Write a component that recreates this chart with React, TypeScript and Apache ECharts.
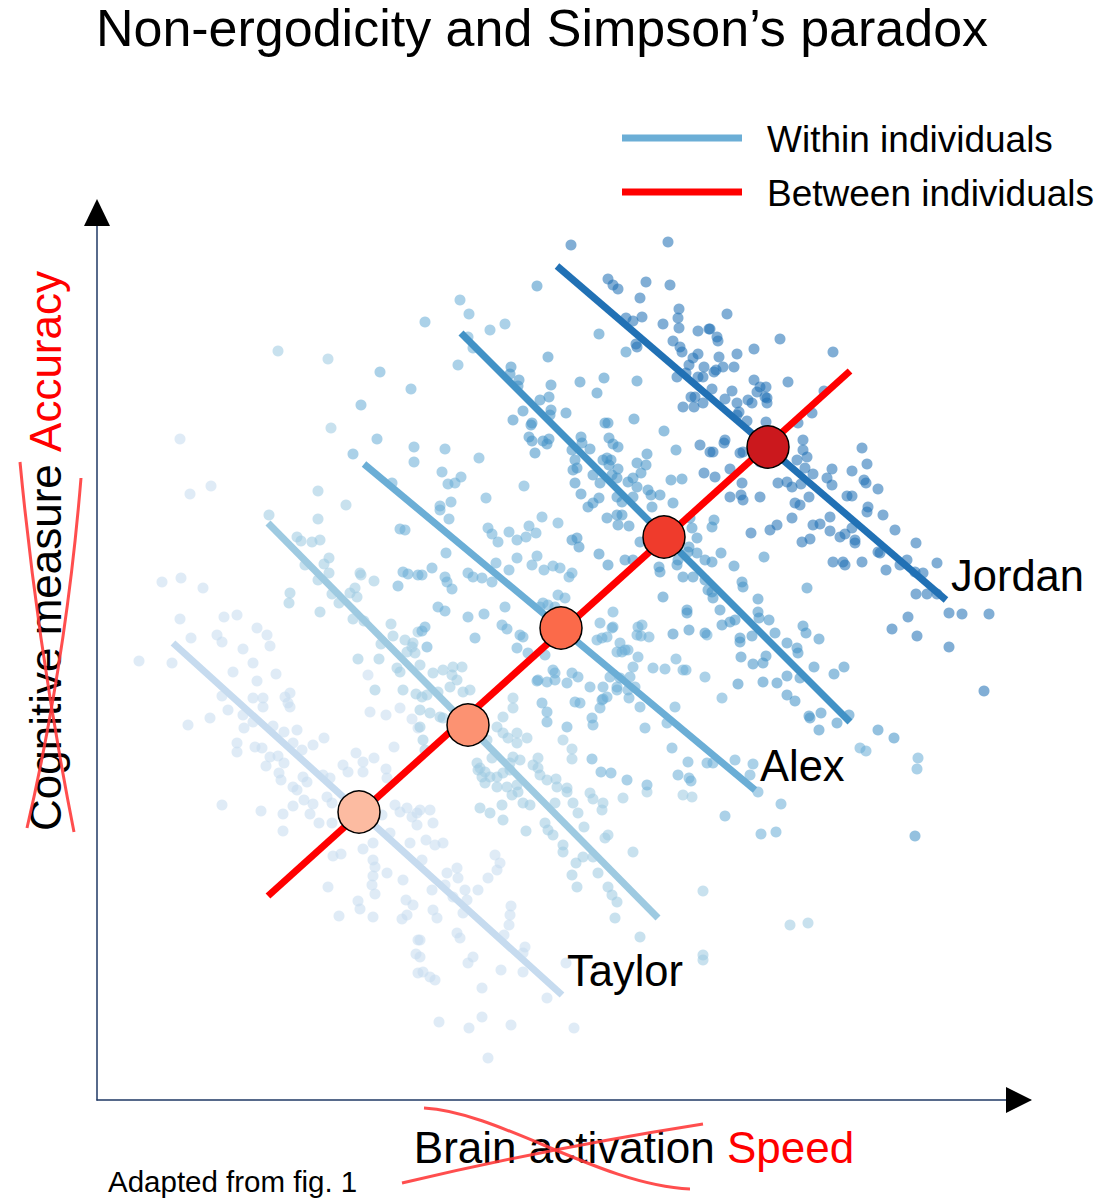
import React, { useEffect, useRef } from 'react';
import * as echarts from 'echarts';

const FONT = '"Liberation Sans", Arial, sans-serif';

// axis ranges (arbitrary units)
const X_MAX = 933;
const Y_MAX = 895;

const TITLE = 'Non-ergodicity and Simpson\u2019s paradox';
const LEGEND_WITHIN = 'Within individuals';
const LEGEND_BETWEEN = 'Between individuals';
const X_LABEL_OLD = 'Brain activation';
const X_LABEL_NEW = 'Speed';
const Y_LABEL_OLD = 'Cognitive measure';
const Y_LABEL_NEW = 'Accuracy';
const SOURCE = 'Adapted from fig. 1';

const GROUP_LABELS = ['Taylor', '', 'Alex', '', 'Jordan'];
const GROUP_COLORS = ['#c6dbef', '#9ecae1', '#6baed6', '#4292c6', '#2171b5'];
const MEAN_COLORS = ['#fcbba1', '#fc9272', '#fb6a4a', '#ef3b2c', '#cb181d'];

// individual means
const MEANS_X = [262, 371, 464, 567, 671];
const MEANS_Y = [288, 375, 472, 563, 653];

// within-individual fitted lines (start / end)
const WITHIN_X0 = [76, 171, 267, 364, 460];
const WITHIN_Y0 = [457, 577, 636, 767, 834];
const WITHIN_X1 = [465, 561, 658, 753, 849];
const WITHIN_Y1 = [105, 182, 310, 378, 500];

// between-individual line
const BETWEEN_X = [171, 753];
const BETWEEN_Y = [204, 729];

// observations per individual
const TAYLOR_POINTS = [
  [83,661],[93,606],[114,614],[65,518],[84,522],[106,512],[83,481],[94,462],[127,483],[140,485],
  [120,465],[125,458],[160,472],[170,465],[173,454],[146,451],[156,437],[136,428],[160,419],[179,426],
  [42,439],[75,437],[125,404],[131,390],[156,402],[166,402],[166,393],[188,403],[193,407],[191,397],
  [193,393],[91,375],[113,382],[146,385],[147,372],[156,378],[176,374],[187,368],[200,370],[140,357],
  [140,348],[158,353],[165,352],[173,343],[181,344],[196,357],[205,350],[216,355],[227,362],[169,334],
  [187,337],[182,327],[184,320],[196,313],[206,323],[210,318],[226,325],[233,322],[259,347],[277,342],
  [266,338],[289,331],[290,322],[246,335],[251,328],[266,328],[297,353],[273,388],[289,385],[303,392],
  [315,381],[321,372],[271,425],[125,295],[164,289],[186,286],[196,294],[207,300],[216,296],[213,286],
  [186,269],[222,277],[235,277],[230,303],[235,297],[200,310],[266,251],[276,257],[276,240],[278,233],
  [276,224],[290,227],[236,244],[244,246],[231,213],[275,215],[278,206],[261,199],[263,191],[242,184],
  [276,183],[306,220],[309,200],[305,181],[310,185],[316,195],[298,295],[303,288],[310,292],[315,283],
  [320,275],[313,257],[320,287],[293,267],[285,285],[321,160],[319,146],[321,127],[323,290],[333,290],
  [336,277],[329,260],[346,257],[338,255],[325,240],[335,210],[348,215],[360,232],[350,227],[361,222],
  [368,210],[370,200],[356,203],[366,187],[381,210],[391,222],[398,245],[400,230],[403,237],[336,190],
  [340,182],[323,160],[323,143],[326,128],[333,123],[338,120],[360,167],[363,162],[376,143],[371,137],
  [414,194],[413,185],[412,175],[407,165],[428,153],[426,147],[404,130],[426,128],[450,102],[469,137],
  [385,112],[385,83],[342,78],[372,72],[414,75],[477,72],[391,42],
];

const SECOND_POINTS = [
  [181,749],[231,741],[234,672],[221,609],[249,595],[172,585],[221,581],[200,563],[204,559],[215,558],
  [223,560],[232,542],[227,536],[208,535],[232,527],[221,520],[263,527],[264,525],[277,519],[193,507],
  [192,497],[223,488],[235,506],[253,507],[258,512],[260,503],[242,497],[256,481],[267,479],[294,476],
  [296,464],[284,456],[282,441],[261,441],[308,460],[316,457],[318,447],[321,468],[310,448],[315,453],
  [300,432],[303,428],[278,410],[306,410],[319,406],[323,435],[336,427],[346,430],[356,433],[355,425],
  [360,420],[365,433],[373,410],[366,408],[353,413],[341,408],[330,405],[325,403],[323,390],[333,387],
  [343,383],[346,382],[416,402],[416,392],[406,383],[400,373],[406,367],[411,362],[420,367],[420,357],
  [430,362],[441,342],[436,335],[441,332],[390,360],[395,342],[381,330],[385,323],[443,325],[450,320],
  [459,321],[323,373],[326,360],[328,350],[380,337],[383,332],[388,328],[393,323],[400,323],[406,327],
  [413,330],[416,343],[423,340],[413,337],[388,317],[400,313],[410,313],[420,315],[475,351],[475,341],
  [466,360],[460,313],[470,312],[383,292],[393,287],[405,295],[406,280],[415,305],[421,308],[426,297],
  [433,295],[429,269],[448,277],[451,270],[456,265],[458,297],[470,308],[476,297],[481,287],[487,273],
  [466,255],[466,248],[479,237],[475,225],[480,213],[486,243],[496,243],[501,227],[508,262],[511,265],
  [505,290],[506,297],[493,307],[496,301],[511,213],[515,205],[520,198],[518,182],[543,163],[536,248],
  [526,302],[550,308],[586,305],[595,303],[606,209],[606,145],[606,140],[693,175],[711,177],
];

const ALEX_POINTS = [
  [283,728],[314,711],[264,695],[280,661],[317,653],[317,638],[256,646],[295,617],[363,800],[372,786],
  [328,778],[393,770],[408,776],[371,763],[376,752],[361,735],[348,651],[382,642],[345,628],[351,616],
  [358,617],[364,623],[427,614],[389,602],[354,598],[343,594],[303,571],[308,570],[306,528],[311,526],
  [321,525],[301,514],[352,581],[343,590],[391,572],[395,566],[401,558],[412,568],[420,560],[429,563],
  [432,574],[439,567],[445,583],[461,577],[349,547],[325,525],[335,532],[348,523],[350,518],[355,511],
  [371,527],[376,523],[385,522],[395,518],[399,537],[412,530],[420,542],[435,535],[440,544],[447,530],
  [456,534],[463,532],[472,523],[475,527],[461,505],[468,502],[443,493],[446,497],[451,495],[458,493],
  [426,463],[423,465],[405,475],[410,471],[408,493],[387,486],[378,462],[371,483],[341,493],[348,489],
  [325,469],[328,473],[330,453],[420,452],[431,447],[448,445],[456,430],[458,420],[450,418],[441,420],
  [475,427],[481,423],[470,417],[493,413],[500,460],[505,462],[510,463],[515,472],[516,488],[516,473],
  [503,477],[523,457],[528,450],[525,448],[531,450],[520,448],[545,475],[552,463],[540,465],[541,473],
  [544,464],[556,432],[568,431],[579,441],[586,430],[589,430],[541,443],[536,433],[533,423],[523,422],
  [513,423],[506,413],[520,413],[520,410],[510,403],[506,401],[532,402],[543,393],[531,410],[538,413],
  [608,423],[610,465],[578,393],[570,377],[548,372],[575,352],[591,338],[610,337],[581,325],[592,322],
  [594,319],[495,382],[496,375],[505,400],[503,392],[483,397],[478,398],[445,397],[450,388],[450,378],
  [470,373],[440,419],[458,427],[495,341],[504,328],[514,327],[530,320],[550,315],[625,402],[638,340],
  [656,336],[653,325],[616,337],[763,352],[769,349],[821,342],[820,331],[661,308],[684,296],[628,284],
  [664,266],[679,268],
];

const FOURTH_POINTS = [
  [440,814],[502,766],[529,748],[451,743],[414,733],[413,726],[422,720],[421,714],[454,715],[452,703],
  [443,700],[426,689],[416,680],[435,677],[434,675],[454,690],[453,685],[469,687],[432,663],[435,659],
  [446,659],[450,656],[452,661],[438,647],[540,719],[507,722],[500,707],[483,718],[537,681],[567,669],
  [579,650],[508,677],[511,677],[512,662],[516,656],[521,653],[484,663],[485,657],[493,651],[475,650],
  [478,640],[480,632],[476,630],[506,640],[510,642],[514,640],[512,635],[521,631],[520,622],[515,625],
  [478,617],[484,606],[496,625],[503,617],[550,646],[549,635],[540,637],[544,627],[536,622],[531,618],
  [540,613],[551,610],[554,605],[563,605],[502,602],[496,597],[491,593],[525,598],[520,603],[536,603],
  [576,597],[555,593],[574,620],[585,621],[510,582],[520,585],[521,575],[532,574],[525,585],[556,572],
  [543,558],[553,557],[558,553],[593,582],[595,572],[600,562],[592,553],[591,548],[600,547],[608,540],
  [581,540],[580,535],[586,523],[596,523],[608,520],[611,510],[528,540],[536,540],[562,533],[563,528],
  [566,503],[590,490],[590,487],[592,470],[608,467],[576,466],[475,560],[480,562],[482,553],[502,546],
  [511,535],[617,580],[615,573],[667,543],[624,547],[615,538],[637,534],[710,512],[645,518],[646,513],
  [661,501],[615,508],[616,502],[623,490],[625,475],[633,478],[638,480],[661,488],[662,482],[672,480],
  [655,464],[643,462],[643,458],[678,467],[644,443],[669,444],[666,437],[656,436],[690,457],[700,452],
  [701,447],[706,474],[709,467],[722,461],[717,433],[690,424],[680,417],[666,418],[641,416],[703,422],
  [737,426],[747,433],[690,405],[698,399],[712,384],[724,387],[713,382],[740,377],[752,385],[722,370],
  [781,370],[797,362],[818,264],
];

const JORDAN_POINTS = [
  [474,855],[571,858],[511,821],[516,815],[521,811],[549,818],[573,815],[543,802],[529,782],[536,779],
  [545,783],[566,776],[582,791],[581,782],[582,772],[601,769],[612,771],[576,759],[583,753],[585,748],
  [539,756],[540,753],[596,742],[601,746],[592,735],[607,733],[580,723],[589,727],[601,723],[606,723],
  [594,703],[598,703],[586,693],[597,693],[606,697],[603,655],[613,648],[607,627],[630,786],[613,771],
  [620,763],[621,759],[683,761],[657,751],[640,746],[622,743],[736,748],[637,733],[626,733],[617,728],
  [619,730],[657,720],[691,718],[663,713],[669,713],[660,708],[635,709],[628,701],[615,711],[651,700],
  [655,697],[670,702],[670,697],[668,703],[640,697],[727,709],[642,688],[640,685],[650,679],[669,678],
  [715,687],[701,677],[628,660],[627,657],[616,648],[643,647],[646,648],[706,660],[706,650],[710,643],
  [700,640],[708,632],[765,652],[770,636],[735,631],[730,622],[735,615],[755,629],[767,620],[769,617],
  [781,611],[750,604],[755,604],[716,626],[712,603],[681,617],[690,618],[695,613],[704,616],[645,617],
  [633,631],[618,623],[663,603],[644,605],[646,600],[633,603],[698,597],[703,595],[771,593],[663,638],
  [695,582],[680,575],[673,570],[654,567],[705,558],[713,561],[716,575],[723,576],[733,583],[733,569],
  [743,563],[748,566],[755,572],[758,560],[758,557],[770,588],[786,585],[798,570],[781,548],[783,547],
  [736,538],[746,538],[748,535],[765,538],[789,530],[810,540],[803,535],[819,557],[840,537],[818,528],
  [826,527],[819,506],[830,506],[840,506],[852,487],[865,486],[892,486],[811,483],[795,471],[820,464],
  [852,453],[887,409],
];

const POINT_GROUPS = [TAYLOR_POINTS, SECOND_POINTS, ALEX_POINTS, FOURTH_POINTS, JORDAN_POINTS];

// page layout (pixels)
const GRID_LEFT = 97;
const GRID_TOP = 205;
const GRID_RIGHT_X = 1030;
const GRID_BOTTOM_Y = 1100;
const AXIS_COLOR = '#1f3864';
const STRIKE = '#ff3b3b';

export default function App() {
  const ref = useRef<HTMLDivElement>(null);

  useEffect(() => {
    if (!ref.current) return;
    const chart = echarts.init(ref.current, undefined, { renderer: 'svg' });

    const scatterSeries = POINT_GROUPS.map((pts, i) => ({
      type: 'scatter',
      name: GROUP_LABELS[i] || 'Individual ' + (i + 1),
      data: pts,
      symbolSize: 11,
      itemStyle: { color: GROUP_COLORS[i], opacity: 0.57 },
      z: 2,
      silent: true,
    }));

    const withinSeries = WITHIN_X0.map((x0, i) => ({
      type: 'line',
      name: 'within-' + i,
      data: [[x0, WITHIN_Y0[i]], [WITHIN_X1[i], WITHIN_Y1[i]]],
      symbol: 'none',
      showSymbol: false,
      clip: false,
      lineStyle: { color: GROUP_COLORS[i], width: 7, cap: 'butt' },
      z: 3,
      silent: true,
      endLabel: {
        show: !!GROUP_LABELS[i],
        formatter: GROUP_LABELS[i],
        fontSize: 43.5,
        fontFamily: FONT,
        color: '#000',
        distance: 5,
        offset: [0, -24],
      },
    }));

    const betweenSeries = {
      type: 'line',
      name: 'between',
      data: BETWEEN_X.map((x, i) => [x, BETWEEN_Y[i]]),
      symbol: 'none',
      showSymbol: false,
      clip: false,
      lineStyle: { color: '#ff0000', width: 7, cap: 'butt' },
      z: 4,
      silent: true,
    };

    const meanSeries = {
      type: 'scatter',
      name: 'means',
      data: MEANS_X.map((x, i) => ({
        value: [x, MEANS_Y[i]],
        itemStyle: { color: MEAN_COLORS[i] },
      })),
      symbolSize: 42,
      itemStyle: { borderColor: '#000', borderWidth: 1.5, opacity: 1 },
      z: 5,
      silent: true,
    };

    const textStyle = (extra: any) => ({
      fontFamily: FONT,
      fill: '#000',
      ...extra,
    });

    chart.setOption({
      animation: false,
      backgroundColor: '#ffffff',
      grid: {
        left: GRID_LEFT,
        top: GRID_TOP,
        width: GRID_RIGHT_X - GRID_LEFT,
        height: GRID_BOTTOM_Y - GRID_TOP,
      },
      xAxis: {
        type: 'value',
        min: 0,
        max: X_MAX,
        axisLine: { show: true, onZero: false, lineStyle: { color: AXIS_COLOR, width: 1.5 } },
        axisTick: { show: false },
        axisLabel: { show: false },
        splitLine: { show: false },
      },
      yAxis: {
        type: 'value',
        min: 0,
        max: Y_MAX,
        axisLine: { show: true, onZero: false, lineStyle: { color: AXIS_COLOR, width: 1.5 } },
        axisTick: { show: false },
        axisLabel: { show: false },
        splitLine: { show: false },
      },
      series: [...scatterSeries, ...withinSeries, betweenSeries, meanSeries],
      graphic: [
        // axis arrows
        {
          type: 'polygon',
          shape: { points: [[GRID_LEFT, GRID_TOP - 6], [GRID_LEFT - 13, GRID_TOP + 21], [GRID_LEFT + 13, GRID_TOP + 21]] },
          style: { fill: '#000' },
          z: 50,
        },
        {
          type: 'polygon',
          shape: { points: [[GRID_RIGHT_X + 2, GRID_BOTTOM_Y], [GRID_RIGHT_X - 24, GRID_BOTTOM_Y - 13], [GRID_RIGHT_X - 24, GRID_BOTTOM_Y + 13]] },
          style: { fill: '#000' },
          z: 50,
        },
        // title
        {
          type: 'text',
          x: 542,
          y: 28,
          style: textStyle({ text: TITLE, fontSize: 52, align: 'center', textAlign: 'center', verticalAlign: 'middle', textVerticalAlign: 'middle' }),
          z: 60,
        },
        // legend
        {
          type: 'line',
          shape: { x1: 622, y1: 138, x2: 742, y2: 138 },
          style: { stroke: GROUP_COLORS[2], lineWidth: 7 },
          z: 60,
        },
        {
          type: 'line',
          shape: { x1: 622, y1: 192, x2: 742, y2: 192 },
          style: { stroke: '#ff0000', lineWidth: 7 },
          z: 60,
        },
        {
          type: 'text',
          x: 767,
          y: 139,
          style: textStyle({ text: LEGEND_WITHIN, fontSize: 37, align: 'left', textAlign: 'left', verticalAlign: 'middle', textVerticalAlign: 'middle' }),
          z: 60,
        },
        {
          type: 'text',
          x: 767,
          y: 193,
          style: textStyle({ text: LEGEND_BETWEEN, fontSize: 37, align: 'left', textAlign: 'left', verticalAlign: 'middle', textVerticalAlign: 'middle' }),
          z: 60,
        },
        // y label
        {
          type: 'text',
          x: 45,
          y: 551,
          rotation: Math.PI / 2,
          style: textStyle({
            text: '{a|' + Y_LABEL_OLD + '} {b|' + Y_LABEL_NEW + '}',
            fontSize: 44,
            align: 'center',
            textAlign: 'center',
            verticalAlign: 'middle',
            textVerticalAlign: 'middle',
            rich: {
              a: { fill: '#000', fontSize: 44, fontFamily: FONT },
              b: { fill: '#ff0000', fontSize: 44, fontFamily: FONT },
            },
          }),
          z: 60,
        },
        // x label
        {
          type: 'text',
          x: 634,
          y: 1147,
          style: textStyle({
            text: '{a|' + X_LABEL_OLD + '} {b|' + X_LABEL_NEW + '}',
            fontSize: 44,
            align: 'center',
            textAlign: 'center',
            verticalAlign: 'middle',
            textVerticalAlign: 'middle',
            rich: {
              a: { fill: '#000', fontSize: 44, fontFamily: FONT },
              b: { fill: '#ff0000', fontSize: 44, fontFamily: FONT },
            },
          }),
          z: 60,
        },
        // source
        {
          type: 'text',
          x: 108,
          y: 1181,
          style: textStyle({ text: SOURCE, fontSize: 29.5, align: 'left', textAlign: 'left', verticalAlign: 'middle', textVerticalAlign: 'middle' }),
          z: 60,
        },
        // strike-through strokes
        {
          type: 'bezierCurve',
          shape: { x1: 20, y1: 462, x2: 74, y2: 832, cpx1: 38, cpy1: 650 },
          style: { stroke: STRIKE, lineWidth: 3, fill: 'none', opacity: 0.9 },
          z: 70,
        },
        {
          type: 'bezierCurve',
          shape: { x1: 81, y1: 478, x2: 27, y2: 828, cpx1: 66, cpy1: 660 },
          style: { stroke: STRIKE, lineWidth: 3, fill: 'none', opacity: 0.9 },
          z: 70,
        },
        {
          type: 'bezierCurve',
          shape: { x1: 424, y1: 1108, x2: 690, y2: 1189, cpx1: 500, cpy1: 1112, cpx2: 600, cpy2: 1185 },
          style: { stroke: STRIKE, lineWidth: 3, fill: 'none', opacity: 0.9 },
          z: 70,
        },
        {
          type: 'bezierCurve',
          shape: { x1: 402, y1: 1183, x2: 703, y2: 1124, cpx1: 550, cpy1: 1148 },
          style: { stroke: STRIKE, lineWidth: 3, fill: 'none', opacity: 0.9 },
          z: 70,
        },
      ],
    });

    return () => chart.dispose();
  }, []);

  return (
    <div
      ref={ref}
      style={{ position: 'absolute', left: 0, top: 0, width: 1094, height: 1200, background: '#fff' }}
    />
  );
}
